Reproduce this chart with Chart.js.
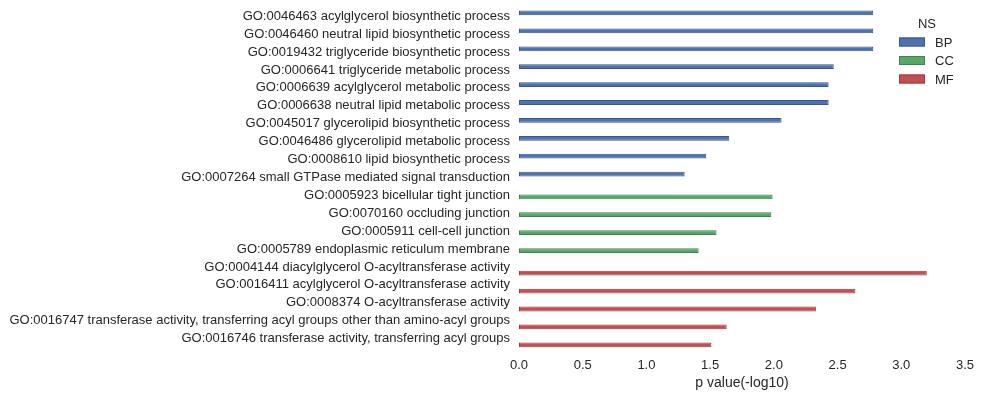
<!DOCTYPE html>
<html>
<head>
<meta charset="utf-8">
<script src="https://cdn.jsdelivr.net/npm/chart.js@4/dist/chart.umd.min.js"></script>
<style>
  html, body { margin: 0; padding: 0; background: #fff; }
  #wrap { width: 981px; height: 397px; }
</style>
</head>
<body>
<div id="wrap"><canvas id="chart"></canvas></div>
<script>
// GO terms (top to bottom)
const terms = [
  'GO:0046463 acylglycerol biosynthetic process',
  'GO:0046460 neutral lipid biosynthetic process',
  'GO:0019432 triglyceride biosynthetic process',
  'GO:0006641 triglyceride metabolic process',
  'GO:0006639 acylglycerol metabolic process',
  'GO:0006638 neutral lipid metabolic process',
  'GO:0045017 glycerolipid biosynthetic process',
  'GO:0046486 glycerolipid metabolic process',
  'GO:0008610 lipid biosynthetic process',
  'GO:0007264 small GTPase mediated signal transduction',
  'GO:0005923 bicellular tight junction',
  'GO:0070160 occluding junction',
  'GO:0005911 cell-cell junction',
  'GO:0005789 endoplasmic reticulum membrane',
  'GO:0004144 diacylglycerol O-acyltransferase activity',
  'GO:0016411 acylglycerol O-acyltransferase activity',
  'GO:0008374 O-acyltransferase activity',
  'GO:0016747 transferase activity, transferring acyl groups other than amino-acyl groups',
  'GO:0016746 transferase activity, transferring acyl groups'
];
// namespace of each term
const termNS = ['BP','BP','BP','BP','BP','BP','BP','BP','BP','BP',
                'CC','CC','CC','CC',
                'MF','MF','MF','MF','MF'];
// p value (-log10)
const pValues = [2.78, 2.78, 2.78, 2.47, 2.43, 2.43, 2.06, 1.65, 1.47, 1.30,
                 1.99, 1.98, 1.55, 1.41,
                 3.20, 2.64, 2.33, 1.63, 1.51];

const namespaces = ['BP', 'CC', 'MF'];
const nsColors = ['#4C72B0', '#55A868', '#C44E52'];
const nsEdges = ['#3b5888', '#41824f', '#973c3f'];
const xTicks = [0, 0.5, 1, 1.5, 2, 2.5, 3, 3.5];

const FONT = "'Liberation Sans', Arial, sans-serif";
const TEXT = '#262626';

// one dataset per namespace, empty slots stay reserved (dodge like seaborn)
const datasets = namespaces.map((ns, i) => ({
  label: ns,
  data: pValues.map((v, j) => termNS[j] === ns ? v : null),
  backgroundColor: nsColors[i],
  borderColor: nsEdges[i],
  borderWidth: 1,
  borderSkipped: false,
  categoryPercentage: 0.8,
  barPercentage: 1.0
}));

// legend drawn inside the plot, top right
const nsLegend = {
  id: 'nsLegend',
  afterDraw(chart) {
    const ctx = chart.ctx;
    ctx.save();
    ctx.font = '13px ' + FONT;
    ctx.fillStyle = TEXT;
    ctx.textBaseline = 'middle';
    ctx.textAlign = 'center';
    ctx.fillText('NS', 927, 24);
    ctx.textAlign = 'left';
    chart.data.datasets.forEach((ds, i) => {
      const y = 42 + i * 18.5;
      ctx.fillStyle = ds.backgroundColor;
      ctx.fillRect(899, y - 4.5, 26, 9);
      ctx.strokeStyle = ds.borderColor;
      ctx.lineWidth = 1;
      ctx.strokeRect(899.5, y - 4, 25, 8);
      ctx.fillStyle = TEXT;
      ctx.fillText(ds.label, 935, y + 1);
    });
    ctx.restore();
  }
};

new Chart(document.getElementById('chart'), {
  type: 'bar',
  data: { labels: terms, datasets: datasets },
  options: {
    indexAxis: 'y',
    responsive: true,
    maintainAspectRatio: false,
    animation: false,
    layout: { padding: { top: -2, right: 16, left: 0, bottom: 0 } },
    plugins: {
      legend: { display: false },
      tooltip: { enabled: false }
    },
    scales: {
      x: {
        min: 0,
        max: 3.5,
        afterBuildTicks: (scale) => { scale.ticks = xTicks.map(v => ({ value: v })); },
        grid: { display: false },
        border: { display: false },
        ticks: {
          color: TEXT,
          font: { family: FONT, size: 13 },
          padding: 1,
          callback: (v) => v.toFixed(1)
        },
        title: {
          display: true,
          text: 'p value(-log10)',
          color: TEXT,
          font: { family: FONT, size: 14 },
          padding: { top: 0, bottom: 5 }
        },
        afterFit: (scale) => { scale.height = 48; }
      },
      y: {
        grid: { display: false },
        border: { display: false },
        ticks: {
          color: TEXT,
          font: { family: FONT, size: 13 },
          padding: 1,
          labelOffset: -1.5,
          autoSkip: false
        },
        afterFit: (scale) => { scale.width = 519; }
      }
    }
  },
  plugins: [nsLegend]
});
</script>
</body>
</html>
